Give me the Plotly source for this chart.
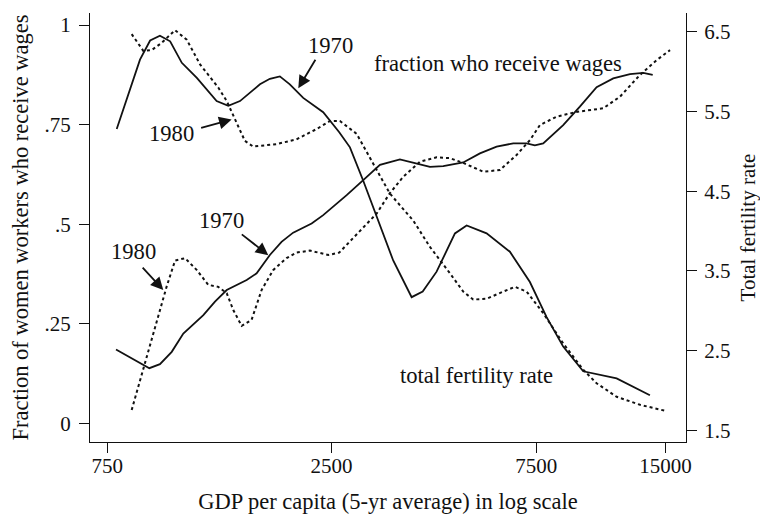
import math
import plotly.graph_objects as go

# ---- data ----
# Fraction of women workers who receive wages (left axis)
gdp_wage_1970 = [786, 910, 940, 995, 1060, 1128, 1256, 1337, 1424, 1585,
                 1672, 1795, 1911, 2034, 2246, 2390, 2605, 2711, 2963, 3241,
                 3608, 3946, 4239, 4552, 5068, 5543, 6063, 6628, 7122, 7444,
                 7785, 8666, 9478, 10368, 11337, 12402, 13322, 14012]
wage_1970 = [0.186, 0.147, 0.139, 0.149, 0.180, 0.226, 0.272, 0.306, 0.335, 0.360,
             0.377, 0.423, 0.456, 0.479, 0.502, 0.523, 0.557, 0.573, 0.611, 0.649,
             0.663, 0.653, 0.644, 0.646, 0.655, 0.678, 0.695, 0.703, 0.703, 0.698,
             0.703, 0.749, 0.795, 0.844, 0.866, 0.877, 0.880, 0.875]

gdp_wage_1980 = [855, 918, 978, 1031, 1079, 1139, 1213, 1290, 1361, 1424,
                 1475, 1543, 1627, 1717, 1827, 1963, 2071, 2226, 2456, 2605,
                 3184, 3418, 3671, 4016, 4393, 4718, 5068, 5641, 6171, 6748,
                 7248, 7648, 8364, 9311, 10743, 11750, 13091, 14316, 15378]
wage_1980 = [0.034, 0.151, 0.260, 0.343, 0.409, 0.415, 0.385, 0.348, 0.343, 0.327,
             0.285, 0.245, 0.260, 0.335, 0.385, 0.415, 0.429, 0.434, 0.423, 0.429,
             0.527, 0.578, 0.619, 0.657, 0.668, 0.666, 0.654, 0.632, 0.636, 0.674,
             0.711, 0.749, 0.770, 0.782, 0.791, 0.820, 0.875, 0.912, 0.937]

# Total fertility rate (right axis)
gdp_tfr_1970 = [789, 894, 944, 995, 1051, 1119, 1213, 1349, 1436, 1529,
                1702, 1795, 1894, 1998, 2147, 2390, 2605, 2759, 2963, 3212,
                3480, 3842, 4077, 4393, 4847, 5161, 5745, 6510, 7248, 7928,
                8666, 9649, 10743, 11546, 13803]
tfr_1970 = [5.28, 6.15, 6.39, 6.45, 6.38, 6.11, 5.92, 5.63, 5.57, 5.63,
            5.84, 5.91, 5.94, 5.84, 5.67, 5.49, 5.24, 5.05, 4.63, 4.13,
            3.63, 3.17, 3.24, 3.49, 3.97, 4.07, 3.97, 3.74, 3.36, 2.92,
            2.55, 2.24, 2.19, 2.15, 1.94]

gdp_tfr_1980 = [855, 910, 952, 1004, 1079, 1149, 1234, 1361, 1424, 1488,
                1570, 1641, 1860, 2071, 2308, 2478, 2614, 2859, 3127, 3418,
                3876, 4239, 4718, 5068, 5347, 5745, 6282, 6687, 7122, 7785,
                8666, 9649, 10368, 11546, 13091, 15105]
tfr_1980 = [6.47, 6.26, 6.27, 6.36, 6.52, 6.40, 6.09, 5.80, 5.63, 5.40,
            5.13, 5.06, 5.09, 5.15, 5.28, 5.38, 5.38, 5.22, 4.84, 4.47,
            4.13, 3.80, 3.47, 3.24, 3.14, 3.15, 3.24, 3.30, 3.24, 2.97,
            2.59, 2.26, 2.09, 1.92, 1.82, 1.74]

x_ticks = [750, 2500, 7500, 15000]
x_tick_labels = ["750", "2500", "7500", "15000"]
y_ticks = [0, 0.25, 0.5, 0.75, 1]
y_tick_labels = ["0", ".25", ".5", ".75", "1"]
y2_ticks = [1.5, 2.5, 3.5, 4.5, 5.5, 6.5]
y2_tick_labels = ["1.5", "2.5", "3.5", "4.5", "5.5", "6.5"]

FONT = "Liberation Serif, Times New Roman, serif"
INK = "#111111"

fig = go.Figure()
fig.add_trace(go.Scatter(x=gdp_wage_1970, y=wage_1970, mode="lines",
                         line=dict(color=INK, width=1.8), name="Wages 1970"))
fig.add_trace(go.Scatter(x=gdp_wage_1980, y=wage_1980, mode="lines",
                         line=dict(color=INK, width=2, dash="dot"), name="Wages 1980"))
fig.add_trace(go.Scatter(x=gdp_tfr_1970, y=tfr_1970, mode="lines", yaxis="y2",
                         line=dict(color=INK, width=1.8), name="TFR 1970"))
fig.add_trace(go.Scatter(x=gdp_tfr_1980, y=tfr_1980, mode="lines", yaxis="y2",
                         line=dict(color=INK, width=2, dash="dot"), name="TFR 1980"))

axis_common = dict(showline=True, linecolor=INK, linewidth=1.3, ticks="outside",
                   ticklen=10, tickwidth=1.3, tickcolor=INK, showgrid=False,
                   zeroline=False, automargin=False,
                   tickfont=dict(size=21, color=INK, family=FONT))

# the page adds an 8px body margin, so the figure is 760x506 and sits at (8, 8)
fig.update_layout(
    width=760, height=506,
    margin=dict(l=82, r=82, t=5, b=72),
    paper_bgcolor="white", plot_bgcolor="white",
    font=dict(family=FONT, color=INK, size=21),
    showlegend=False,
    xaxis=dict(type="log", range=[2.8348, 4.2241], tickvals=x_ticks,
               ticktext=x_tick_labels, ticklabelstandoff=-5,
               title=dict(text="GDP per capita (5-yr average) in log scale",
                          font=dict(size=22.5), standoff=16),
               **axis_common),
    yaxis=dict(range=[-0.0462, 1.0301], tickvals=y_ticks, ticktext=y_tick_labels,
               ticklabelstandoff=4,
               title=dict(text="Fraction of women workers who receive wages",
                          font=dict(size=22.5), standoff=15),
               **axis_common),
    yaxis2=dict(range=[1.353, 6.735], overlaying="y", side="right",
                tickvals=y2_ticks, ticktext=y2_tick_labels, ticklabelstandoff=3,
                title=dict(text="Total fertility rate", font=dict(size=21), standoff=10),
                **axis_common),
)

# text labels (annotation x on a log axis is given as log10 of the value)
labels = [
    dict(x=2490, y=6.33, yref="y2", text="1970"),
    dict(x=1060, y=5.22, yref="y2", text="1980"),
    dict(x=862, y=0.431, yref="y", text="1980"),
    dict(x=1386, y=0.510, yref="y", text="1970"),
    dict(x=6115, y=0.904, yref="y", text="fraction who receive wages"),
    dict(x=5447, y=0.121, yref="y", text="total fertility rate"),
]
for lb in labels:
    fig.add_annotation(x=math.log10(lb["x"]), y=lb["y"], xref="x", yref=lb["yref"],
                       text=lb["text"], showarrow=False,
                       font=dict(size=22.6, color=INK, family=FONT),
                       xanchor="center", yanchor="middle")

# arrows (head in data coords, tail as pixel offset)
arrows = [
    dict(x=2091, y=5.79, yref="y2", ax=18, ay=-30),
    dict(x=1462, y=5.40, yref="y2", ax=-32, ay=9),
    dict(x=1013, y=0.335, yref="y", ax=-22, ay=-24),
    dict(x=1780, y=0.4225, yref="y", ax=-28, ay=-22),
]
for ar in arrows:
    fig.add_annotation(x=math.log10(ar["x"]), y=ar["y"], xref="x", yref=ar["yref"],
                       text="", showarrow=True, ax=ar["ax"], ay=ar["ay"], arrowhead=2,
                       arrowsize=1.4, arrowwidth=1.8, arrowcolor=INK, standoff=0)

fig.write_html("out.html")
